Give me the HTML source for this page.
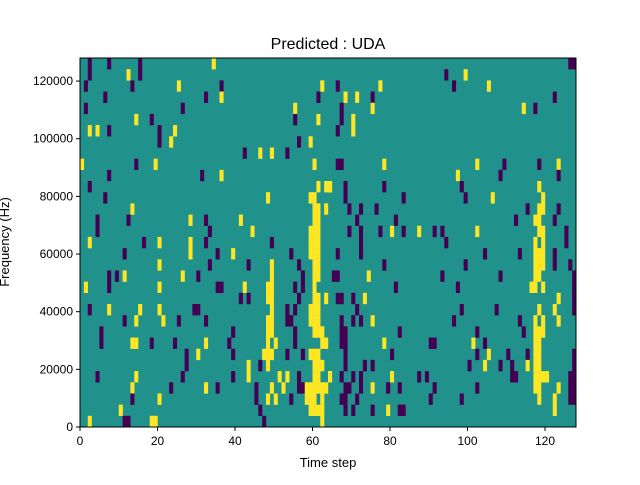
<!DOCTYPE html>
<html><head><meta charset="utf-8"><style>
body{margin:0;background:#fff;}
svg text{font-family:"Liberation Sans","DejaVu Sans",sans-serif;fill:#000;}
</style></head><body>
<svg id="chart" width="640" height="480" xmlns="http://www.w3.org/2000/svg">
<rect width="640" height="480" fill="#fff"/>
<g id="cells"></g>
<g id="axes"></g>
<text x="328" y="49" font-size="16" text-anchor="middle">Predicted : UDA</text>
<text x="328" y="467" font-size="13" text-anchor="middle">Time step</text>
<text transform="translate(9,242) rotate(-90)" font-size="13" text-anchor="middle">Frequency (Hz)</text>
</svg>
<script>
const nCols = 128;
const nRows = 33;
const fMax = 128000;
const xTicks = [0,20,40,60,80,100,120];
const yTicks = [0,20000,40000,60000,80000,100000,120000];
// segments: [colStart, colEnd, rowStart(top=0), rowEnd, value]
const segments = [
[2,2,0,1,-1],[7,7,0,0,-1],[15,15,0,1,-1],[34,34,0,0,1],[12,12,1,1,1],
[1,1,2,2,-1],[13,13,2,2,-1],[25,25,2,2,1],[36,36,2,2,-1],[62,62,2,2,1],
[6,6,3,3,-1],[32,32,3,3,-1],[36,36,3,3,1],[61,61,3,3,-1],
[1,1,4,4,-1],[26,26,4,4,-1],[55,55,4,4,1],
[14,14,5,5,1],[18,18,5,5,-1],[55,55,5,5,-1],[61,61,5,5,1],
[2,2,6,6,1],[4,4,6,6,1],[7,7,6,6,-1],[20,20,6,7,-1],[24,24,6,6,1],
[23,23,7,7,1],[56,56,7,7,-1],[59,59,7,7,1],
[42,42,8,8,-1],[46,46,8,8,1],[49,49,8,8,1],[53,53,8,8,-1],
[0,0,9,9,1],[14,14,9,9,-1],[19,19,9,9,1],[60,60,9,9,1],
[7,7,10,10,-1],[31,31,10,10,-1],[36,36,10,10,1],
[2,2,11,11,-1],[61,61,11,11,1],[63,64,11,11,1],
[6,6,12,12,-1],[48,48,12,12,1],[59,60,12,12,1],
[13,13,13,13,1],[60,61,13,13,1],[63,63,13,13,1],
[4,4,14,15,-1],[12,12,14,14,-1],[28,28,14,14,1],[32,32,14,14,-1],[41,41,14,14,1],[60,61,14,14,1],
[33,33,15,15,-1],[44,44,15,15,1],[59,61,15,15,1],
[2,2,16,16,1],[16,16,16,16,-1],[20,20,16,16,1],[28,28,16,16,1],[32,32,16,16,-1],[49,49,16,16,-1],[59,61,16,16,1],
[11,11,17,17,-1],[28,28,17,17,1],[35,35,17,17,-1],[39,39,17,17,1],[54,54,17,17,-1],[59,61,17,17,1],
[20,20,18,18,1],[33,33,18,18,-1],[43,43,18,18,-1],[49,49,18,18,1],[56,56,18,18,-1],[60,61,18,18,1],
[7,7,19,20,-1],[9,9,19,19,-1],[11,11,19,19,1],[26,26,19,19,1],[30,30,19,19,-1],[49,49,19,19,1],[57,57,19,20,-1],[60,61,19,19,1],
[1,1,20,20,1],[20,20,20,20,1],[35,36,20,20,-1],[42,42,20,20,1],[48,49,20,20,1],[55,55,20,20,-1],[60,60,20,20,1],
[41,41,21,21,-1],[43,43,21,21,-1],[48,49,21,21,1],[56,56,21,21,-1],[60,61,21,21,1],[63,63,21,21,1],
[2,2,22,22,-1],[7,7,22,22,1],[15,15,22,22,1],[20,20,22,22,1],[29,30,22,22,-1],[49,49,22,22,1],[53,53,22,23,-1],[55,55,22,22,-1],[59,61,22,22,1],
[11,11,23,23,-1],[14,14,23,23,1],[21,21,23,23,1],[25,25,23,23,-1],[32,32,23,23,-1],[48,49,23,23,1],[54,54,23,23,-1],[59,61,23,23,1],
[5,5,24,25,-1],[39,39,24,24,-1],[48,49,24,24,1],[55,55,24,25,-1],[60,62,24,24,1],
[13,14,25,25,1],[18,18,25,25,-1],[24,24,25,25,-1],[32,32,25,25,1],[38,38,25,25,-1],[48,48,25,25,1],[50,50,25,25,1],[62,63,25,25,1],
[27,27,26,27,-1],[30,30,26,26,1],[39,39,26,26,-1],[47,49,26,26,1],[53,53,26,26,-1],[57,57,26,26,-1],[59,61,26,26,1],
[43,43,27,28,1],[46,46,27,27,-1],[48,48,27,27,1],[60,62,27,27,1],
[4,4,28,28,-1],[14,14,28,28,1],[26,26,28,28,-1],[39,39,28,28,-1],[51,51,28,28,1],[53,53,28,28,1],[56,56,28,28,-1],[60,61,28,28,1],[64,64,28,28,1],
[13,13,29,29,1],[23,23,29,29,-1],[32,32,29,29,1],[35,35,29,29,-1],[45,45,29,30,-1],[49,49,29,29,1],[52,52,29,29,1],[56,57,29,29,-1],[58,63,29,29,1],
[13,13,30,30,-1],[20,20,30,30,1],[48,48,30,30,1],[50,50,30,30,1],[54,54,30,30,-1],[58,60,30,30,1],[62,62,30,30,1],
[10,10,31,31,1],[46,46,31,31,-1],[59,62,31,31,1],
[2,2,32,32,1],[11,12,32,32,-1],[18,19,32,32,1],[47,47,32,32,-1],[62,62,32,32,1],
[126,127,0,0,-1],[94,94,1,1,-1],[99,99,1,1,1],
[66,66,2,2,-1],[77,77,2,2,1],[96,96,2,2,-1],[105,105,2,2,1],
[68,68,3,3,1],[71,71,3,3,1],[75,75,3,3,-1],[122,122,3,3,-1],
[67,67,4,5,-1],[75,75,4,4,1],[114,114,4,4,1],[117,117,4,4,-1],
[70,70,5,6,1],[66,66,6,6,-1],
[66,67,9,9,-1],[78,78,9,9,1],[102,102,9,9,1],[109,109,9,9,-1],[118,118,9,9,-1],[123,123,9,9,1],
[97,97,10,10,1],[108,108,10,10,-1],[123,123,10,10,-1],
[64,64,11,11,1],[68,68,11,12,-1],[78,78,11,11,-1],[98,98,11,11,-1],[118,118,11,11,1],
[83,83,12,12,-1],[99,99,12,12,-1],[106,106,12,12,1],[119,119,12,12,1],
[69,69,13,13,-1],[72,72,13,13,-1],[76,76,13,13,-1],[115,115,13,13,-1],[118,119,13,13,1],[123,123,13,13,-1],
[71,71,14,14,-1],[81,81,14,14,-1],[112,112,14,14,-1],[117,118,14,14,1],[122,122,14,14,-1],
[69,69,15,15,-1],[72,72,15,16,-1],[77,77,15,15,-1],[80,80,15,15,1],[83,83,15,15,-1],[87,87,15,15,1],[91,91,15,15,-1],[93,93,15,15,-1],[102,102,15,15,1],[118,119,15,15,1],[125,125,15,16,-1],
[94,94,16,16,-1],[117,117,16,16,1],[119,119,16,16,1],
[66,66,17,17,-1],[72,72,17,17,-1],[104,104,17,17,-1],[113,113,17,17,-1],[117,119,17,18,1],[122,122,17,18,-1],
[78,78,18,18,-1],[99,99,18,18,-1],[126,126,18,18,-1],
[65,66,19,19,-1],[74,74,19,19,1],[93,93,19,19,-1],[108,108,19,19,-1],[117,118,19,19,1],[127,127,19,22,-1],
[81,81,20,20,-1],[97,97,20,20,-1],[116,117,20,20,1],[119,119,20,20,1],
[66,67,21,21,-1],[70,70,21,21,-1],[73,73,21,21,1],[123,123,21,21,1],
[71,71,22,22,-1],[98,98,22,22,-1],[107,107,22,22,-1],[118,118,22,22,1],[122,122,22,22,1],
[67,67,23,23,-1],[70,70,23,23,-1],[72,72,23,23,-1],[75,75,23,23,1],[96,96,23,23,-1],[113,113,23,23,-1],[117,117,23,23,1],[119,119,23,23,1],[123,123,23,23,1],
[67,68,24,25,-1],[82,82,24,24,-1],[102,102,24,24,-1],[114,114,24,24,-1],[117,119,24,24,1],
[78,78,25,25,1],[90,91,25,25,-1],[101,101,25,25,1],[104,104,25,25,-1],[117,118,25,25,1],
[68,68,26,27,-1],[80,80,26,26,-1],[102,102,26,26,-1],[105,105,26,26,1],[110,110,26,26,-1],[115,115,26,26,-1],[117,118,26,26,1],[127,127,26,28,-1],
[73,73,27,27,-1],[75,75,27,27,-1],[100,100,27,27,-1],[104,104,27,27,1],[108,108,27,27,-1],[111,111,27,27,-1],[115,115,27,27,1],[117,118,27,27,1],
[64,64,28,28,1],[67,67,28,28,-1],[70,70,28,28,-1],[72,72,28,29,-1],[80,80,28,28,1],[87,87,28,28,-1],[89,89,28,28,-1],[111,112,28,28,-1],[117,120,28,28,1],[126,127,28,30,-1],
[68,69,29,29,-1],[75,75,29,29,1],[79,79,29,29,-1],[82,82,29,29,-1],[91,91,29,29,-1],[102,102,29,29,-1],[117,118,29,29,1],[123,123,29,29,1],
[67,68,30,30,-1],[71,71,30,30,-1],[90,90,30,30,-1],[98,98,30,30,-1],[118,118,30,30,1],[122,122,30,30,1],
[68,68,31,31,-1],[70,70,31,31,-1],[75,75,31,31,-1],[79,79,31,31,1],[82,83,31,31,-1],[122,122,31,31,1]
];
const X0=80, X1=576, Y0=58, Y1=427;
const NS="http://www.w3.org/2000/svg";
function xScale(c){return X0+(X1-X0)*c/nCols;}
function yScaleF(f){return Y1-(Y1-Y0)*f/fMax;}
function rowTop(r){return Y0+(Y1-Y0)*r/nRows;}
function color(v){return v>0?"#fde725":(v<0?"#440154":"#21918c");}
const cg=document.getElementById("cells");
function mk(tag,attrs,parent){const e=document.createElementNS(NS,tag);for(const k in attrs)e.setAttribute(k,attrs[k]);parent.appendChild(e);return e;}
const bg=mk("rect",{x:X0,y:Y0,width:X1-X0,height:Y1-Y0,fill:color(0)},cg);


segments.forEach(s=>{
  const x=xScale(s[0]), w=xScale(s[1]+1)-x, y=rowTop(s[2]), h=rowTop(s[3]+1)-y;
  const r=mk("rect",{x:x,y:y,width:w+0.2,height:h+0.2,fill:color(s[4])},cg);
  
  
});
const ax=document.getElementById("axes");
const fr=mk("rect",{x:X0,y:Y0,width:X1-X0,height:Y1-Y0,fill:"none",stroke:"#000","stroke-width":1},ax);


xTicks.forEach(t=>{
  const x=xScale(t);
  mk("line",{x1:x,x2:x,y1:Y1,y2:Y1+4,stroke:"#000"},ax);
  const tx=mk("text",{x:x,y:Y1+18,"font-size":12,"text-anchor":"middle"},ax);
  tx.textContent=t;
  
  
});
yTicks.forEach(t=>{
  const y=yScaleF(t);
  mk("line",{x1:X0-4,x2:X0,y1:y,y2:y,stroke:"#000"},ax);
  const tx=mk("text",{x:X0-7,y:y+4,"font-size":12,"text-anchor":"end"},ax);
  tx.textContent=t;
  
  
});
</script>
</body></html>
